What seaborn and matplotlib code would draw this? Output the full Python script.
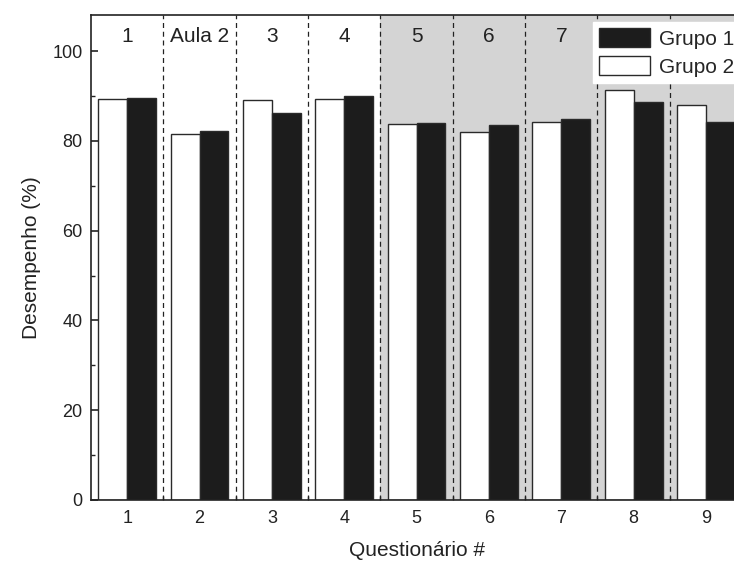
import numpy as np
import pandas as pd
import seaborn as sns
import matplotlib.pyplot as plt
from matplotlib.patches import Patch
from matplotlib.ticker import MultipleLocator

questionarios = ["1", "2", "3", "4", "5", "6", "7", "8", "9"]
grupo1 = [89.5, 82.1, 86.2, 90.1, 84.0, 83.6, 84.9, 88.6, 84.2]
grupo2 = [89.4, 81.6, 89.0, 89.3, 83.7, 82.0, 84.3, 91.4, 88.1]
# rotulos do topo visiveis (8 e 9 ficam sob a legenda)
rotulos_topo = ["1", "Aula 2", "3", "4", "5", "6", "7"]

df = pd.DataFrame({
    "Questionario": questionarios * 2,
    "Desempenho": grupo2 + grupo1,
    "Grupo": ["Grupo 2"] * 9 + ["Grupo 1"] * 9,
})

sns.set_style("ticks")
plt.rcParams['font.family'] = ['Liberation Sans', 'DejaVu Sans']

fig = plt.figure(figsize=(7.34, 5.63), dpi=100)
ax = fig.add_axes([0.124, 0.112, 0.887, 0.861])

# fundo cinza a partir do questionario 5
ax.axvspan(3.5, 8.5, color="#d4d4d4", zorder=0, lw=0)
for xv in np.arange(0.5, 8.5, 1):
    ax.axvline(xv, color="#222222", ls=(0, (4, 3)), lw=0.9, zorder=1)

sns.barplot(data=df, x="Questionario", y="Desempenho", hue="Grupo",
            hue_order=["Grupo 2", "Grupo 1"],
            palette={"Grupo 2": "white", "Grupo 1": "#1c1c1c"},
            saturation=1, width=0.8, edgecolor="#2a2a2a", linewidth=1.0,
            errorbar=None, ax=ax, zorder=2)

for i, txt in enumerate(rotulos_topo):
    ax.text(i, 103.3, txt, ha="center", va="center", fontsize=15, color="#222222")

ax.set_xlim(-0.5, 8.5)
ax.set_ylim(0, 108)
ax.yaxis.set_major_locator(MultipleLocator(20))
ax.yaxis.set_minor_locator(MultipleLocator(10))
ax.set_xticks(np.arange(0.5, 8.5, 1), minor=True)
ax.tick_params(which="both", direction="in", labelsize=13, colors="#222222")
ax.tick_params(which="major", length=5, width=1.2)
ax.tick_params(which="minor", length=3, width=1)
ax.tick_params(axis="x", pad=7)
ax.tick_params(axis="y", pad=6)
for s in ax.spines.values():
    s.set_linewidth(1.2)
    s.set_color("#222222")

ax.set_xlabel("Questionário #", fontsize=15, labelpad=10, color="#222222")
ax.set_ylabel("Desempenho (%)", fontsize=15, labelpad=8, color="#222222")

handles = [Patch(facecolor="#1c1c1c", edgecolor="#2a2a2a", label="Grupo 1"),
           Patch(facecolor="white", edgecolor="#2a2a2a", label="Grupo 2")]
leg = ax.legend(handles=handles, loc="upper right", bbox_to_anchor=(1.013, 1.007),
                fontsize=15, frameon=True, fancybox=False, framealpha=1,
                handlelength=2.45, handleheight=1.0, borderpad=0.3,
                labelspacing=0.35, handletextpad=0.4)
leg.get_frame().set_edgecolor("white")
leg.set_zorder(5)

fig.savefig("out.png", dpi=100)
